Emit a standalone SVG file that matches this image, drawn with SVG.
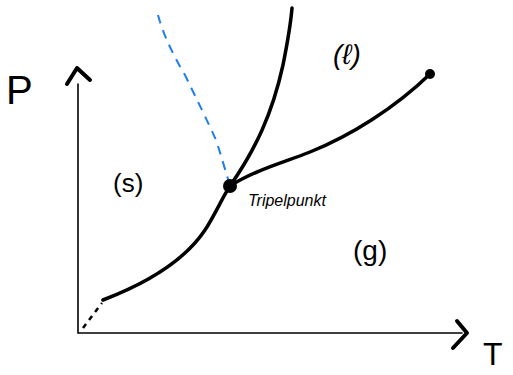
<svg xmlns="http://www.w3.org/2000/svg" width="513" height="375" viewBox="0 0 513 375">
<style>
.ax{fill:none;stroke:#000;stroke-width:1.6;stroke-linecap:round}
.ah{fill:none;stroke:#000;stroke-width:4;stroke-linecap:round;stroke-linejoin:round}
.cv{fill:none;stroke:#000;stroke-width:3.5;stroke-linecap:round}
.lbl{font-family:"Liberation Sans",sans-serif;fill:#000}
</style>
<rect width="513" height="375" fill="#fff"/>
<g id="axes">
<path class="ax" d="M78,84 L78,333 L462,333"/>
<path class="ah" d="M67,84 L77,68 L90,80"/>
<path class="ah" d="M457,321 L467,333 L453,348"/>
<text class="lbl" x="6" y="104" font-size="40">P</text>
<text class="lbl" x="483" y="365" font-size="32">T</text>
</g>
<g id="connectors">
<path class="cv" d="M103,300 C150,282 185,260 205,230 C215,215 222,198 230,186"/>
<path fill="none" stroke="#000" stroke-width="2.5" stroke-dasharray="5,5" d="M83,328 L102,303"/>
<path class="cv" d="M230,186 C255,150 272,115 283,65 C288,40 291,20 292,8"/>
<path class="cv" d="M230,186 C255,170 285,162 310,152 C350,136 395,108 430,74"/>
<path fill="none" stroke="#1e7ef0" stroke-width="2" stroke-dasharray="9,7" d="M158,15 C162,30 170,50 185,75 C197,100 208,122 216,140 C222,158 225,170 229,182"/>
</g>
<g id="triple"><circle cx="230" cy="186" r="7"/></g>
<g id="critical"><circle cx="430" cy="74" r="5"/></g>
<g id="labels">
<text class="lbl" x="113" y="192" font-size="26">(s)</text>
<text class="lbl" x="333" y="64" font-size="28" font-style="italic">(ℓ)</text>
<text class="lbl" x="353" y="260" font-size="28">(g)</text>
<text class="lbl" x="248" y="206" font-size="16" font-style="italic">Tripelpunkt</text>
</g>
</svg>
